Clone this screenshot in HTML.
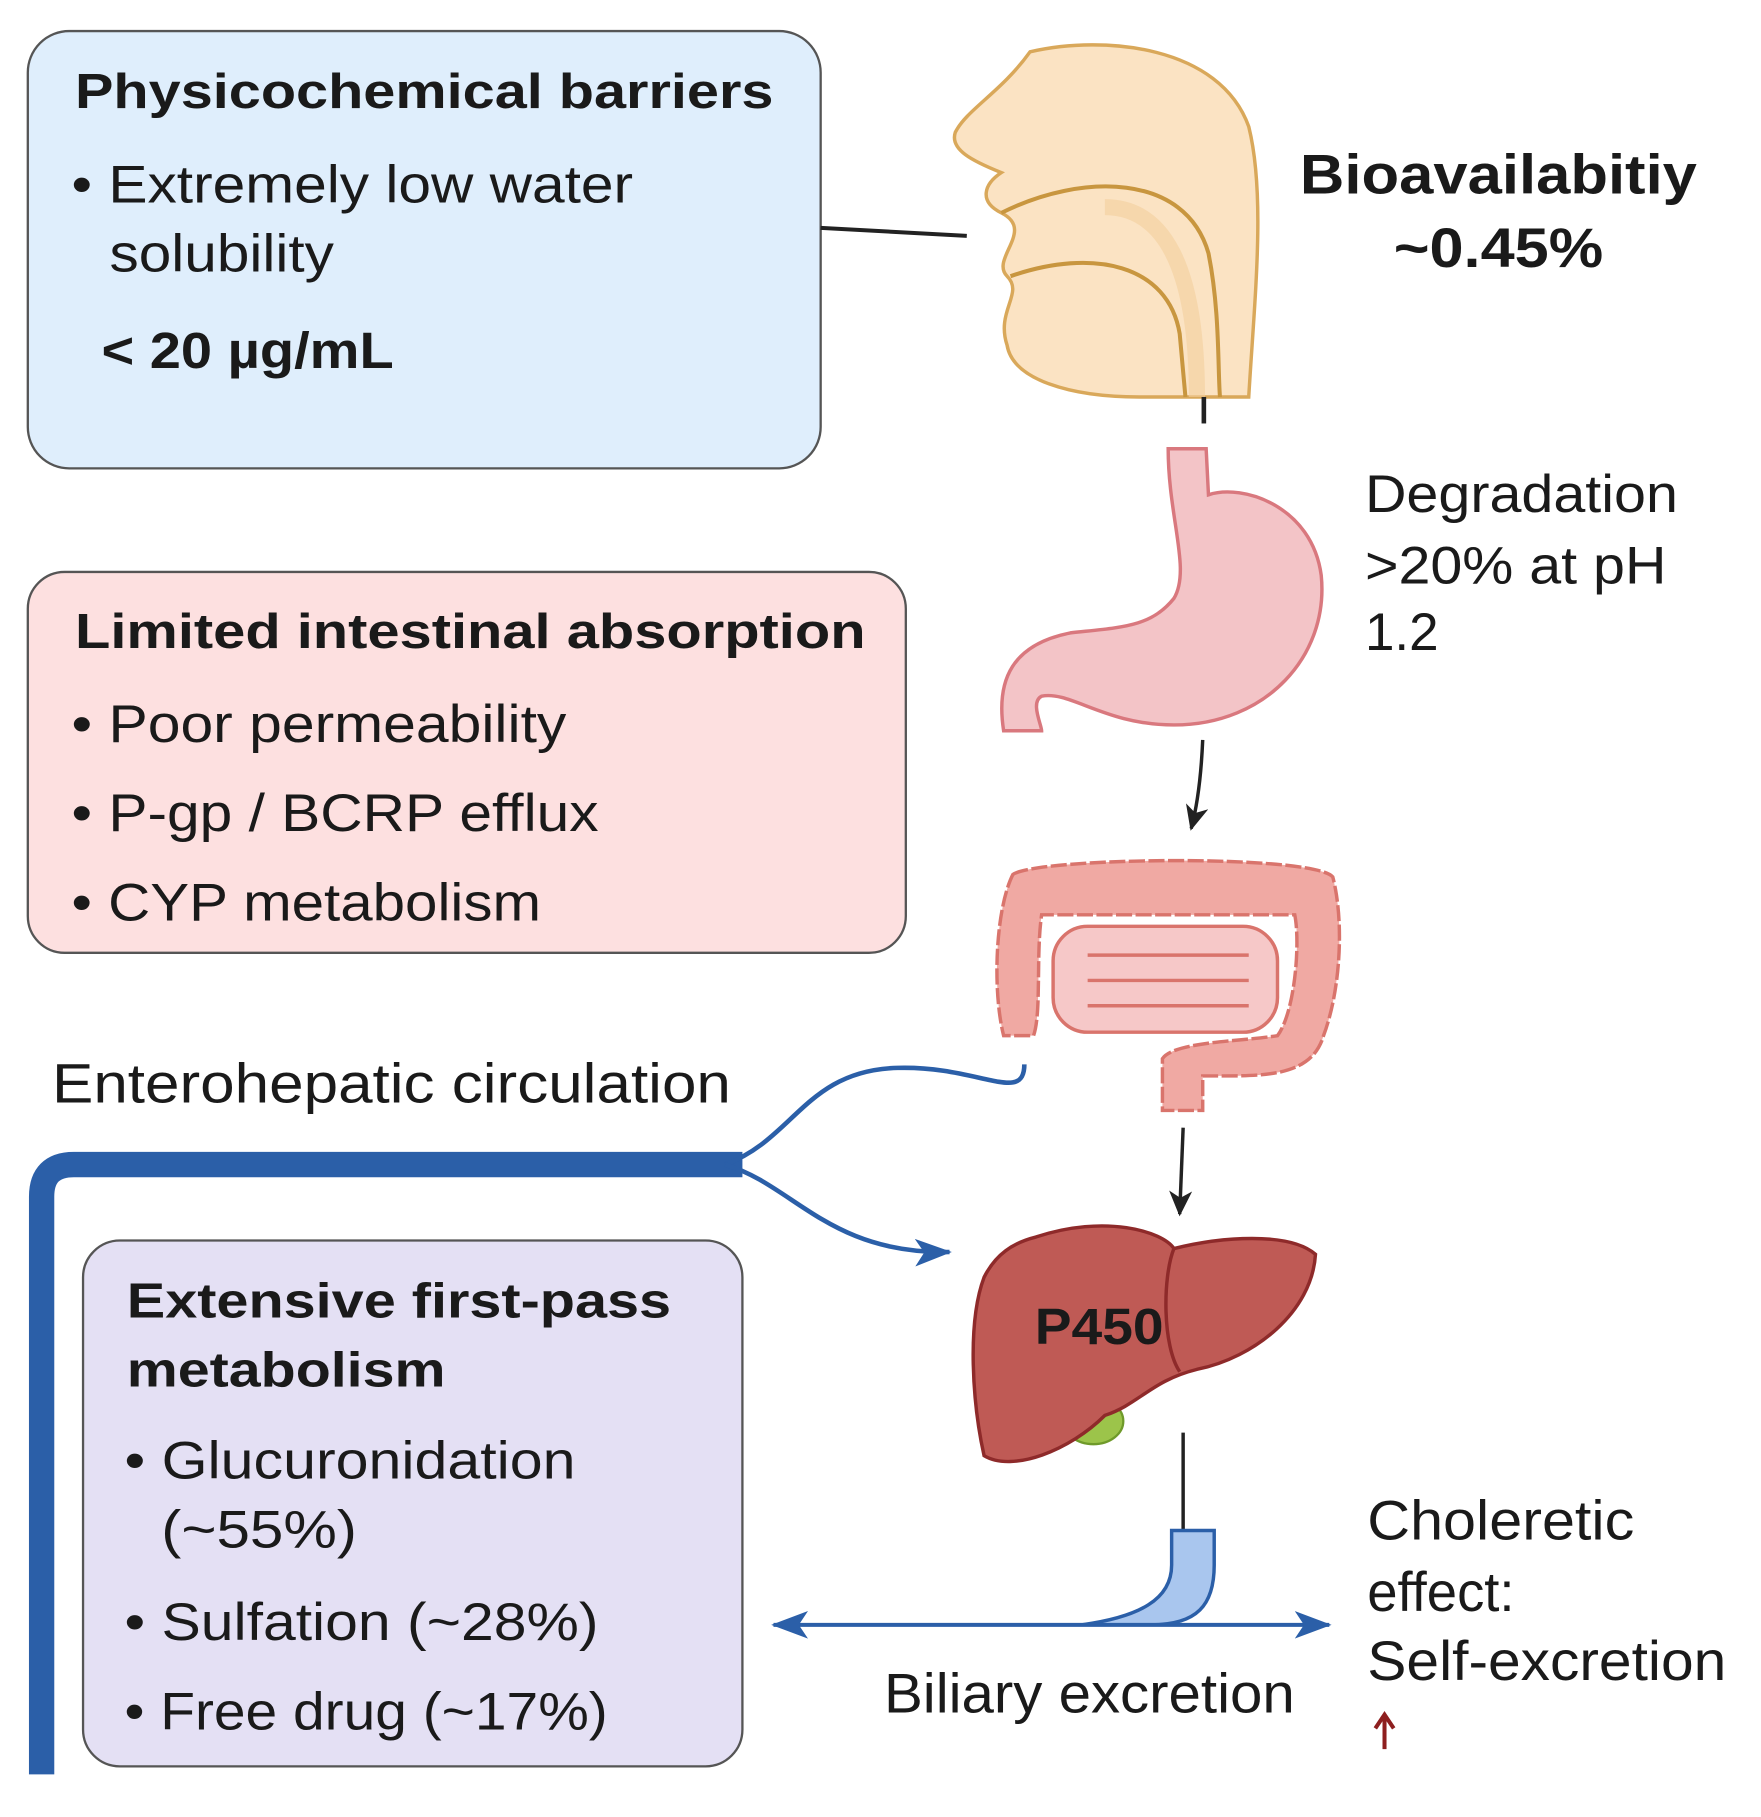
<!DOCTYPE html>
<html><head><meta charset="utf-8"><style>
html,body{margin:0;padding:0;background:#fff}
svg{display:block}
text{font-family:"Liberation Sans",Arial,sans-serif;fill:#1a1a1a}
.b{font-weight:bold}
</style></head><body>
<svg width="1761" height="1817" viewBox="0 0 1530 1579" xmlns="http://www.w3.org/2000/svg">
<defs>
<marker id="abk" markerWidth="24" markerHeight="24" refX="20" refY="12" orient="auto" markerUnits="userSpaceOnUse"><path d="M0,2 L22,12 L0,22 L6,12 Z" fill="#222"/></marker>
<marker id="abl" markerWidth="34" markerHeight="28" refX="30" refY="14" orient="auto-start-reverse" markerUnits="userSpaceOnUse"><path d="M0,2 L32,14 L0,26 L8,14 Z" fill="#2b5fa8"/></marker>
</defs>

<rect x="24" y="27" width="689" height="380" rx="36" fill="#dfeefc" stroke="#555" stroke-width="2"/>
<text x="65" y="94" class="b" font-size="43" textLength="607" lengthAdjust="spacingAndGlyphs">Physicochemical barriers</text>
<text x="62" y="176" font-size="46" textLength="488" lengthAdjust="spacingAndGlyphs">• Extremely low water</text>
<text x="95" y="236" font-size="46" textLength="195" lengthAdjust="spacingAndGlyphs">solubility</text>
<text x="88" y="320" class="b" font-size="44" textLength="254" lengthAdjust="spacingAndGlyphs">&lt; 20 µg/mL</text>
<path d="M713,198 L840,205" stroke="#222" stroke-width="3.5" fill="none"/>

<path d="M895,45 C960,30 1060,40 1085,110 C1100,170 1090,260 1085,345 L990,345 C930,345 880,330 875,300 C865,270 890,255 875,240 C860,225 900,200 870,185 C850,175 855,160 870,150 C845,140 825,130 830,115 C840,95 870,80 895,45 Z" fill="#fbe3c3" stroke="#d9a85a" stroke-width="3"/>
<path d="M870,185 C940,150 1030,150 1050,220 C1060,270 1058,320 1060,345" fill="none" stroke="#c8963f" stroke-width="3.5"/>
<path d="M878,240 C950,215 1015,230 1025,290 L1030,345" fill="none" stroke="#c8963f" stroke-width="3.5"/>
<path d="M960,180 C1010,180 1040,230 1040,345" fill="none" stroke="#f4cf9c" stroke-width="14" opacity="0.6"/>
<text x="1302" y="168" class="b" font-size="48" text-anchor="middle" textLength="345" lengthAdjust="spacingAndGlyphs">Bioavailabitiy</text>
<text x="1302" y="232" class="b" font-size="48" text-anchor="middle" textLength="182" lengthAdjust="spacingAndGlyphs">~0.45%</text>
<path d="M1046,345 L1046,368" stroke="#222" stroke-width="4"/>

<path d="M1015,390 L1048,390 L1050,430 C1080,420 1140,440 1148,500 C1155,570 1100,630 1020,630 C960,630 930,600 905,605 C895,610 905,630 905,635 L872,635 C865,590 880,560 930,550 C975,545 1000,545 1020,520 C1035,495 1015,450 1015,390 Z" fill="#f3c4c7" stroke="#d9787e" stroke-width="3"/>
<text x="1186" y="445" font-size="46" textLength="272" lengthAdjust="spacingAndGlyphs">Degradation</text>
<text x="1186" y="507" font-size="46" textLength="262" lengthAdjust="spacingAndGlyphs">&gt;20% at pH</text>
<text x="1186" y="565" font-size="46" textLength="64" lengthAdjust="spacingAndGlyphs">1.2</text>
<path d="M1045,643 Q1043,690 1035,720" stroke="#222" stroke-width="3" fill="none" marker-end="url(#abk)"/>

<path d="M880,760 C900,745 1140,742 1158,762 C1168,800 1165,860 1150,900 C1140,935 1100,935 1060,935 L1045,935 L1045,965 L1010,965 L1010,920 C1020,905 1080,905 1110,900 C1125,880 1130,820 1125,795 L905,795 C900,830 905,880 898,900 L872,900 C862,860 865,790 880,760 Z" fill="#f0a9a3" stroke="#d9746c" stroke-width="3" stroke-dasharray="14 3"/>
<rect x="915" y="805" width="195" height="92" rx="30" fill="#f6c8c8" stroke="#d9746c" stroke-width="3"/>
<path d="M945,830 L1085,830 M945,852 L1085,852 M945,874 L1085,874" stroke="#d9746c" stroke-width="3"/>
<path d="M1028,980 L1025,1055" stroke="#222" stroke-width="3" marker-end="url(#abk)"/>

<rect x="24" y="497" width="763" height="331" rx="32" fill="#fde0e0" stroke="#555" stroke-width="2"/>
<text x="65" y="563" class="b" font-size="43" textLength="687" lengthAdjust="spacingAndGlyphs">Limited intestinal absorption</text>
<text x="62" y="645" font-size="46" textLength="430" lengthAdjust="spacingAndGlyphs">• Poor permeability</text>
<text x="62" y="722" font-size="46" textLength="458" lengthAdjust="spacingAndGlyphs">• P-gp / BCRP efflux</text>
<text x="62" y="800" font-size="46" textLength="408" lengthAdjust="spacingAndGlyphs">• CYP metabolism</text>

<text x="45" y="958" font-size="48" textLength="590" lengthAdjust="spacingAndGlyphs">Enterohepatic circulation</text>

<path d="M36,1542 L36,1040 Q36,1012 64,1012 L645,1012" fill="none" stroke="#2b5fa8" stroke-width="22"/>
<path d="M630,1012 C690,990 700,930 780,928 C850,926 890,960 890,925" fill="none" stroke="#2b5fa8" stroke-width="4"/>
<path d="M630,1012 C690,1030 720,1090 825,1088" fill="none" stroke="#2b5fa8" stroke-width="4" marker-end="url(#abl)"/>

<rect x="72" y="1078" width="573" height="457" rx="32" fill="#e4e0f4" stroke="#555" stroke-width="2"/>
<text x="110" y="1145" class="b" font-size="43" textLength="473" lengthAdjust="spacingAndGlyphs">Extensive first-pass</text>
<text x="110" y="1205" class="b" font-size="43" textLength="277" lengthAdjust="spacingAndGlyphs">metabolism</text>
<text x="108" y="1285" font-size="46" textLength="392" lengthAdjust="spacingAndGlyphs">• Glucuronidation</text>
<text x="140" y="1345" font-size="46" textLength="170" lengthAdjust="spacingAndGlyphs">(~55%)</text>
<text x="108" y="1425" font-size="46" textLength="412" lengthAdjust="spacingAndGlyphs">• Sulfation (~28%)</text>
<text x="108" y="1503" font-size="46" textLength="420" lengthAdjust="spacingAndGlyphs">• Free drug (~17%)</text>

<ellipse cx="950" cy="1235" rx="26" ry="20" fill="#9cc44a" stroke="#6f9a2a" stroke-width="2"/>
<path d="M900,1075 C960,1055 1010,1070 1020,1085 C1060,1075 1120,1070 1143,1090 C1140,1140 1090,1180 1040,1190 C1000,1200 990,1220 960,1230 C930,1260 880,1280 855,1265 C845,1220 840,1150 855,1110 C865,1090 880,1080 900,1075 Z" fill="#bf5a55" stroke="#8e2a2a" stroke-width="3"/>
<path d="M1020,1085 C1010,1110 1010,1170 1025,1192" fill="none" stroke="#8e2a2a" stroke-width="3"/>
<text x="955" y="1168" class="b" font-size="44" text-anchor="middle" textLength="112" lengthAdjust="spacingAndGlyphs">P450</text>
<path d="M1028,1245 L1028,1330" stroke="#222" stroke-width="3"/>

<path d="M1018,1330 L1055,1330 L1055,1360 C1055,1395 1040,1412 1000,1412 L940,1412 C990,1405 1018,1390 1018,1360 Z" fill="#a9c6ee" stroke="#2b5fa8" stroke-width="3"/>
<path d="M672,1412 L1155,1412" stroke="#2b5fa8" stroke-width="3.5" fill="none" marker-start="url(#abl)" marker-end="url(#abl)"/>
<text x="768" y="1488" font-size="48" textLength="357" lengthAdjust="spacingAndGlyphs">Biliary excretion</text>
<text x="1188" y="1338" font-size="48" textLength="232" lengthAdjust="spacingAndGlyphs">Choleretic</text>
<text x="1188" y="1400" font-size="48" textLength="128" lengthAdjust="spacingAndGlyphs">effect:</text>
<text x="1188" y="1460" font-size="48" textLength="312" lengthAdjust="spacingAndGlyphs">Self-excretion</text>
<path d="M1203,1520 L1203,1492 M1195,1502 L1203,1490 L1211,1502" stroke="#8e1f1f" stroke-width="3.5" fill="none"/>
</svg>
</body></html>
